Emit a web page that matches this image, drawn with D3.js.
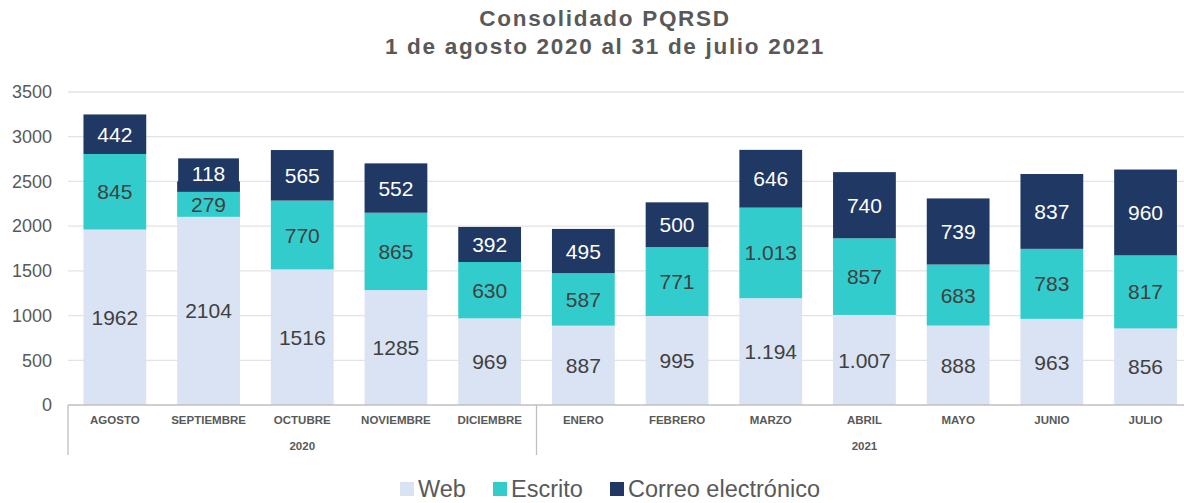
<!DOCTYPE html>
<html>
<head>
<meta charset="utf-8">
<script src="https://cdn.jsdelivr.net/npm/d3@7"></script>
<style>
  body { margin: 0; background: #fff; font-family: "Liberation Sans", Arial, sans-serif; }
</style>
</head>
<body>
<div id="chart"></div>
<script>
// months and the year each one belongs to
var months = ["AGOSTO", "SEPTIEMBRE", "OCTUBRE", "NOVIEMBRE", "DICIEMBRE",
  "ENERO", "FEBRERO", "MARZO", "ABRIL", "MAYO", "JUNIO", "JULIO"];
var years = ["2020", "2020", "2020", "2020", "2020",
  "2021", "2021", "2021", "2021", "2021", "2021", "2021"];

var web = [1962, 2104, 1516, 1285, 969, 887, 995, 1194, 1007, 888, 963, 856];
var escrito = [845, 279, 770, 865, 630, 587, 771, 1013, 857, 683, 783, 817];
var correo = [442, 118, 565, 552, 392, 495, 500, 646, 740, 739, 837, 960];

var seriesNames = ["Web", "Escrito", "Correo electrónico"];
var yTicks = [0, 500, 1000, 1500, 2000, 2500, 3000, 3500];

var colors = ["#dae3f3", "#33cccc", "#1f3864"];
var labelColors = ["#404040", "#404040", "#ffffff"];

var W = 1184, H = 503;
var margin = { top: 92, left: 68 };
var plotBottom = 405;

var svg = d3.select("#chart").append("svg")
  .attr("width", W)
  .attr("height", H);

// title
var title = svg.append("text")
  .attr("text-anchor", "middle")
  .attr("fill", "#595959")
  .style("font-weight", "bold")
  .style("font-size", "22.5px")
  .style("letter-spacing", "1.7px");
title.append("tspan").attr("x", 605).attr("y", 26).text("Consolidado PQRSD");
title.append("tspan").attr("x", 605).attr("y", 54).text("1 de agosto 2020 al 31 de julio 2021");

var x = d3.scaleBand()
  .domain(months)
  .range([margin.left, margin.left + 12 * 93.7])
  .paddingInner(0.33)
  .paddingOuter(0.165);

var y = d3.scaleLinear()
  .domain([0, 3500])
  .range([plotBottom, margin.top]);

// gridlines
svg.append("g")
  .selectAll("line")
  .data(yTicks.filter((d) => d > 0))
  .enter()
  .append("line")
  .attr("x1", margin.left)
  .attr("x2", W)
  .attr("y1", (d) => y(d))
  .attr("y2", (d) => y(d))
  .attr("stroke", "#e3e3e3")
  .attr("stroke-width", 1.3);

// y axis labels
var yAxis = d3.axisLeft(y).tickValues(yTicks).tickFormat(d3.format("d")).tickSize(0).tickPadding(16);
svg.append("g")
  .attr("transform", `translate(${margin.left}, 0)`)
  .call(yAxis)
  .call((g) => g.select(".domain").remove())
  .selectAll("text")
  .attr("fill", "#595959")
  .style("font-size", "18px")
  .style("font-family", "Liberation Sans, Arial, sans-serif");

var rows = months.map((m, i) => ({ month: m, vals: [web[i], escrito[i], correo[i]], dot: years[i] === "2021" }));

var dotFormat = d3.formatLocale({ thousands: ".", grouping: [3], decimal: ",", currency: ["", ""] }).format(",");
function fmt(v, dot) {
  if (dot && v >= 1000) return dotFormat(v);
  return String(v);
}

var bars = svg.append("g")
  .selectAll("g")
  .data(rows)
  .enter()
  .append("g");

bars.each(function(d) {
  var g = d3.select(this);
  var base = 0;
  var prevLabelY = null;
  d.vals.forEach(function(v, s) {
    var y0 = y(base), y1 = y(base + v);
    g.append("rect")
      .attr("x", x(d.month))
      .attr("width", x.bandwidth())
      .attr("y", y1)
      .attr("height", y0 - y1)
      .attr("fill", colors[s]);
    var ly = (y0 + y1) / 2;
    if (prevLabelY !== null && prevLabelY - ly < 28) {
      ly = prevLabelY - 31;
      // label pushed up, give it a background box
      g.append("rect")
        .attr("x", x(d.month) + 1)
        .attr("width", x.bandwidth() - 2)
        .attr("y", ly - 15)
        .attr("height", 30)
        .attr("fill", colors[s]);
    }
    g.append("text")
      .attr("x", x(d.month) + x.bandwidth() / 2)
      .attr("y", ly)
      .attr("dy", "0.36em")
      .attr("text-anchor", "middle")
      .attr("fill", labelColors[s])
      .style("font-size", "21px")
      .text(fmt(v, d.dot));
    prevLabelY = ly;
    base += v;
  });
});

// x axis line and separators
svg.append("line")
  .attr("x1", margin.left).attr("x2", W)
  .attr("y1", plotBottom).attr("y2", plotBottom)
  .attr("stroke", "#bfbfbf").attr("stroke-width", 1.3);

var sepX = [margin.left, (x("DICIEMBRE") + x.bandwidth() + x("ENERO")) / 2];
svg.selectAll("line.sep")
  .data(sepX)
  .enter()
  .append("line")
  .attr("class", "sep")
  .attr("x1", (d) => d).attr("x2", (d) => d)
  .attr("y1", plotBottom).attr("y2", 455)
  .attr("stroke", "#bfbfbf").attr("stroke-width", 1.3);

svg.append("g")
  .selectAll("text")
  .data(months)
  .enter()
  .append("text")
  .attr("x", (d) => x(d) + x.bandwidth() / 2)
  .attr("y", 424)
  .attr("text-anchor", "middle")
  .attr("fill", "#595959")
  .style("font-weight", "bold")
  .style("font-size", "11.5px")
  .text((d) => d);

// year group labels
var groups = d3.groups(months.map((m, i) => ({ m: m, yr: years[i] })), (d) => d.yr);
svg.append("g")
  .selectAll("text")
  .data(groups)
  .enter()
  .append("text")
  .attr("x", (d) => (x(d[1][0].m) + x(d[1][d[1].length - 1].m) + x.bandwidth()) / 2)
  .attr("y", 450)
  .attr("text-anchor", "middle")
  .attr("fill", "#595959")
  .style("font-weight", "bold")
  .style("font-size", "11.5px")
  .text((d) => d[0]);

// legend
var legendX = [400, 493, 610];
var legend = svg.append("g")
  .selectAll("g")
  .data(seriesNames)
  .enter()
  .append("g")
  .attr("transform", (d, i) => `translate(${legendX[i]}, 482)`);
legend.append("rect")
  .attr("width", 14).attr("height", 14)
  .attr("fill", (d, i) => colors[i]);
legend.append("text")
  .attr("x", 18)
  .attr("y", 7)
  .attr("dy", "0.36em")
  .attr("fill", "#595959")
  .style("font-size", "23.5px")
  .text((d) => d);
</script>
</body>
</html>
